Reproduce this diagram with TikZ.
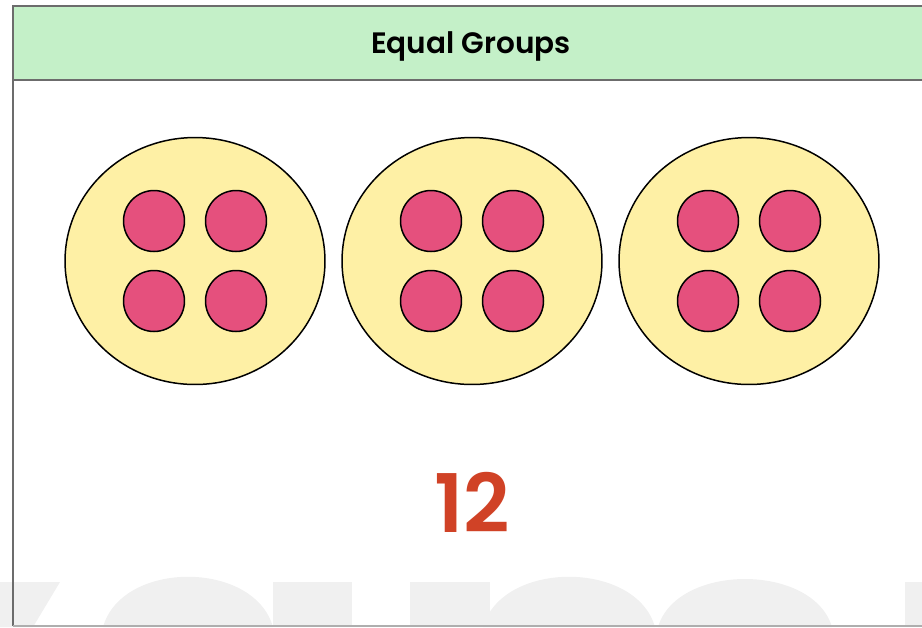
\documentclass[tikz,border=0pt]{standalone}
\usepackage{fontspec}
\setmainfont{Poppins}
\newfontfamily\semibold{Poppins SemiBold}
\usepackage{xcolor}
\usetikzlibrary{shapes.geometric}
\definecolor{headGreen}{RGB}{196,240,200}
\definecolor{groupYellow}{RGB}{254,240,165}
\definecolor{counterPink}{RGB}{229,80,125}
\definecolor{totalRed}{RGB}{208,66,38}
\definecolor{frameGray}{RGB}{108,108,108}
\definecolor{wmGray}{RGB}{240,240,240}

\begin{document}
\begin{tikzpicture}[x=0.02cm, y=-0.02cm,
    group/.style={ellipse, draw=black, line width=0.85pt, fill=groupYellow,
      minimum width=5.2cm, minimum height=4.94cm, inner sep=0pt},
    counter/.style={circle, draw=black, line width=0.85pt, fill=counterPink,
      minimum size=1.22cm, inner sep=0pt},
    wm/.style={fill=wmGray, draw=none},
    frame/.style={draw=frameGray, line width=1.1pt}
  ]
  \useasboundingbox (0,0) rectangle (922,627);
  \clip (0,0) rectangle (922,627);

  % faint watermark at the bottom
  \fill[wm] (0,582) -- (60,582) -- (33,627) -- (0,627) -- cycle;
  \fill[wm] (103,627) .. controls (122,560) and (254,560) .. (273,627) -- cycle;
  \fill[wm] (273,582) rectangle (352,627);
  \fill[wm] (410,582) rectangle (490,627);
  \fill[wm] (483,627) .. controls (502,560) and (636,560) .. (655,627) -- cycle;
  \fill[wm] (658,627) .. controls (677,563) and (813,563) .. (832,627) -- cycle;
  \fill[wm] (905,582) rectangle (930,627);

  % header band and frame
  \fill[headGreen] (13,6) rectangle (940,80);
  \draw[frame] (13,80) -- (940,80);
  \draw[frame] (940,6) -- (13,6) -- (13,626);
  \draw[draw=frameGray!55, line width=1.1pt] (13,626) -- (940,626);

  \node[font=\semibold\fontsize{16.8}{20}\selectfont, anchor=base] (title) at (471,53) {Equal Groups};

  % three equal groups of four
  \foreach \i/\x in {1/195, 2/472, 3/749} {
    \node[group] (g\i) at (\x,261) {};
    \node[counter] (c\i a) at (\x-41,221) {};
    \node[counter] (c\i b) at (\x+41,221) {};
    \node[counter] (c\i c) at (\x-41,301) {};
    \node[counter] (c\i d) at (\x+41,301) {};
  }

  \node[font=\semibold\fontsize{46}{54}\selectfont, text=totalRed] (total) at (472,502) {12};
\end{tikzpicture}
\end{document}
